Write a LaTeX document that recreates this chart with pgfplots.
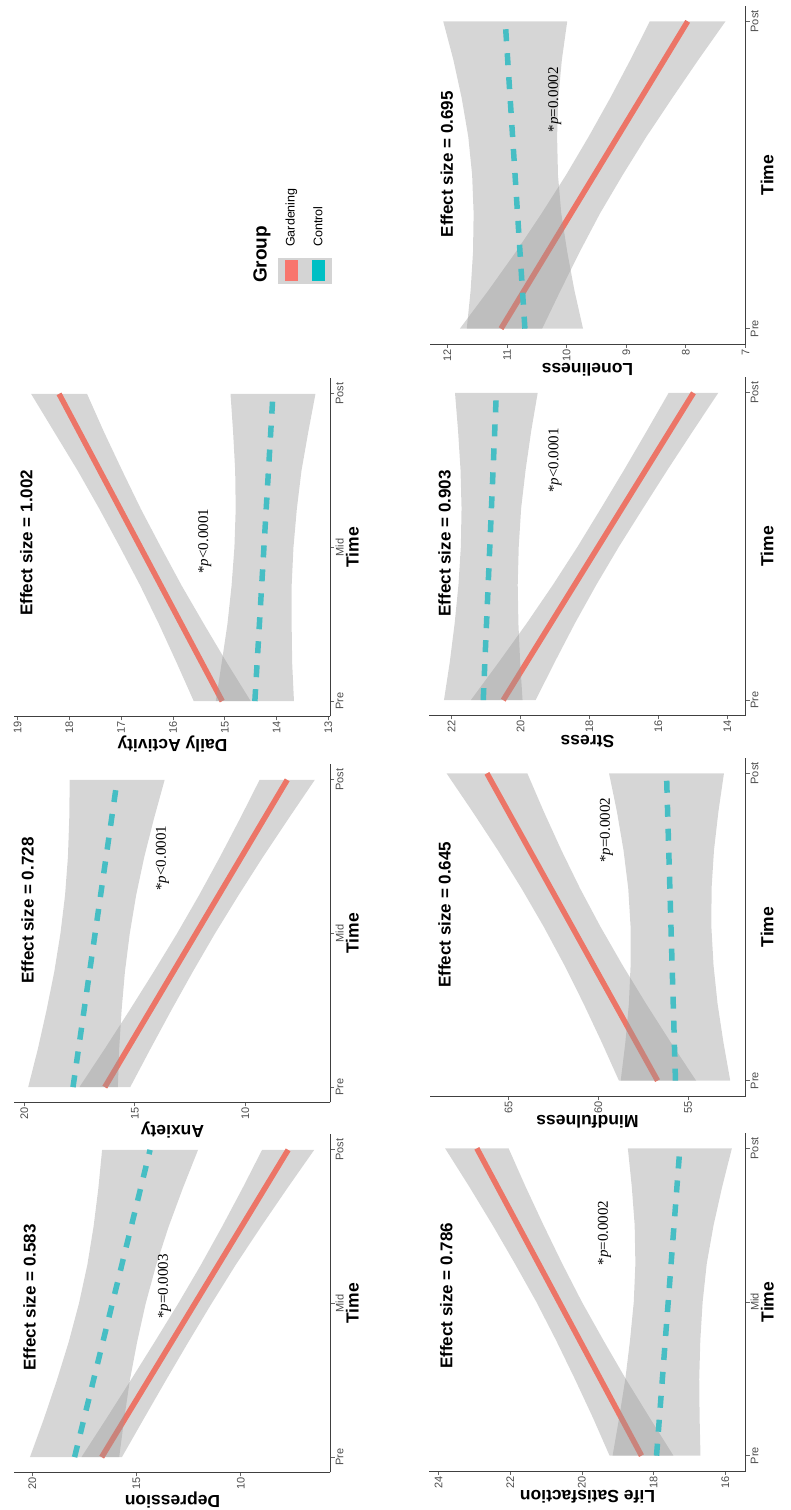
\documentclass[border=0pt]{standalone}
\usepackage{fontspec}
\setmainfont{Liberation Sans}
\newfontfamily\pfont{Liberation Serif}
\usepackage{pgfplots}
\pgfplotsset{compat=1.18}
\definecolor{gard}{RGB}{236,117,103}
\definecolor{ctrl}{RGB}{70,190,196}
\definecolor{gardkey}{RGB}{248,118,109}
\definecolor{ctrlkey}{RGB}{0,191,196}
\definecolor{keygrey}{RGB}{212,212,212}
\newcommand{\fs}[1]{\fontsize{#1}{#1}\selectfont}
\pgfplotsset{
  panel/.style={
    anchor=center, scale only axis, width=316pt, height=338pt,
    x dir=reverse, ymin=0.9, ymax=3.1, clip=false,
    axis x line=bottom, axis y line=right,
    axis line style={-, black!75, line width=0.8pt},
    every outer x axis line/.append style={-},
    every outer y axis line/.append style={-},
    every inner x axis line/.append style={-},
    every inner y axis line/.append style={-},
    tick align=outside, major tick length=4pt,
    tick style={black!60, line width=0.8pt},
    /pgf/number format/assume math mode=true,
    xticklabel style={rotate=90, anchor=east, inner sep=1pt, font=\fs{11}, text=black!70},
    yticklabel style={rotate=90, anchor=north, inner sep=1pt, font=\fs{11}, text=black!70},
    xlabel style={rotate=180, anchor=south, inner sep=1pt, font=\bfseries\fs{17.5}},
    ylabel={Time},
    ylabel style={rotate=0, anchor=north, inner sep=1pt, font=\bfseries\fs{17.5}},
  },
  band/.style={draw=none, fill=black!40, fill opacity=0.4},
  gline/.style={gard, line width=5.5pt, line cap=butt},
  cline/.style={ctrl, line width=5.5pt, dash pattern=on 12pt off 12pt},
}
\tikzset{
  esize/.style={rotate=90, font=\bfseries\fs{17}},
  pval/.style={rotate=90, font=\pfont\fs{15}},
}
\begin{document}
\begin{tikzpicture}
\path[use as bounding box] (0pt,0pt) rectangle (790pt,1510pt);

% ---------------- Depression
\begin{axis}[panel, at={(172.5pt,206.5pt)}, xmin=5.7, xmax=20.85, xtick={10,15,20},
  ytick={1,2,3}, yticklabels={Pre,Mid,Post}, xlabel={Depression}]
\addplot[band] coordinates {(15.70,1) (14.65,1.25) (13.59,1.5) (12.51,1.75) (11.40,2) (10.25,2.25) (9.03,2.5) (7.77,2.75) (6.48,3)
 (8.98,3) (9.92,2.75) (10.90,2.5) (11.92,2.25) (13.00,2) (14.13,1.75) (15.28,1.5) (16.45,1.25) (17.64,1)} -- cycle;
\addplot[gline] coordinates {(16.67,1) (7.73,3)};
\addplot[band] coordinates {(15.83,1) (15.59,1.25) (15.32,1.5) (14.97,1.75) (14.56,2) (14.06,2.25) (13.46,2.5) (12.78,2.75) (12.05,3)
 (16.65,3) (16.83,2.75) (17.06,2.5) (17.36,2.25) (17.76,2) (18.25,1.75) (18.82,1.5) (19.44,1.25) (20.11,1)} -- cycle;
\addplot[cline] coordinates {(17.97,1) (14.35,3)};
\node[esize] at (axis cs:20.13,2.04) {Effect size = 0.583};
\node[pval] at (axis cs:13.66,2.11) {*\textit{p}=0.0003};
\end{axis}

% ---------------- Anxiety
\begin{axis}[panel, at={(172.5pt,576.5pt)}, xmin=6.14, xmax=20.45, xtick={10,15,20},
  ytick={1,2,3}, yticklabels={Pre,Mid,Post}, xlabel={Anxiety}]
\addplot[band] coordinates {(15.21,1) (14.29,1.25) (13.35,1.5) (12.38,1.75) (11.37,2) (10.30,2.25) (9.19,2.5) (8.03,2.75) (6.85,3)
 (9.35,3) (10.23,2.75) (11.14,2.5) (12.09,2.25) (13.09,2) (14.15,1.75) (15.24,1.5) (16.36,1.25) (17.51,1)} -- cycle;
\addplot[gline] coordinates {(16.36,1) (8.1,3)};
\addplot[band] coordinates {(15.77,1) (15.71,1.25) (15.60,1.5) (15.45,1.75) (15.23,2) (14.94,2.25) (14.57,2.5) (14.13,2.75) (13.65,3)
 (17.95,3) (17.97,2.75) (18.03,2.5) (18.16,2.25) (18.37,2) (18.65,1.75) (19.00,1.5) (19.39,1.25) (19.83,1)} -- cycle;
\addplot[cline] coordinates {(17.8,1) (15.8,3)};
\node[esize] at (axis cs:19.86,2.15) {Effect size = 0.728};
\node[pval] at (axis cs:13.75,2.49) {*\textit{p}<0.0001};
\end{axis}

% ---------------- Daily Activity
\begin{axis}[panel, at={(172.5pt,962.5pt)}, xmin=12.96, xmax=19.06, xtick={13,14,15,16,17,18,19},
  ytick={1,2,3}, yticklabels={Pre,Mid,Post}, xlabel={Daily Activity}]
\addplot[band] coordinates {(14.50,1) (14.96,1.25) (15.40,1.5) (15.83,1.75) (16.23,2) (16.62,2.25) (16.98,2.5) (17.33,2.75) (17.66,3)
 (18.74,3) (18.29,2.75) (17.84,2.5) (17.42,2.25) (17.02,2) (16.63,1.75) (16.27,1.5) (15.93,1.25) (15.60,1)} -- cycle;
\addplot[gline] coordinates {(15.05,1) (18.2,3)};
\addplot[band] coordinates {(13.665,1) (13.70,1.25) (13.71,1.5) (13.71,1.75) (13.675,2) (13.61,2.25) (13.52,2.5) (13.39,2.75) (13.25,3)
 (14.89,3) (14.84,2.75) (14.80,2.5) (14.79,2.25) (14.815,2) (14.87,1.75) (14.95,1.5) (15.06,1.25) (15.175,1)} -- cycle;
\addplot[cline] coordinates {(14.42,1) (14.07,3)};
\node[esize] at (axis cs:18.83,2.03) {Effect size = 1.002};
\node[pval] at (axis cs:15.39,2.04) {*\textit{p}<0.0001};
\end{axis}

% ---------------- Life Satisfaction
\begin{axis}[panel, at={(587.5pt,208pt)}, xmin=15.44, xmax=24.25, xtick={16,18,20,22,24},
  ytick={1,2,3}, yticklabels={Pre,Mid,Post}, xlabel={Life Satisfaction}]
\addplot[band] coordinates {(17.45,1) (18.12,1.25) (18.78,1.5) (19.40,1.75) (20.00,2) (20.55,2.25) (21.07,2.5) (21.57,2.75) (22.045,3)
 (23.815,3) (23.14,2.75) (22.49,2.5) (21.87,2.25) (21.27,2) (20.72,1.75) (20.20,1.5) (19.70,1.25) (19.23,1)} -- cycle;
\addplot[gline] coordinates {(18.34,1) (22.93,3)};
\addplot[band] coordinates {(16.695,1) (16.72,1.25) (16.73,1.5) (16.70,1.75) (16.635,2) (16.52,2.25) (16.33,2.5) (16.09,2.75) (15.82,3)
 (18.72,3) (18.61,2.75) (18.53,2.5) (18.51,2.25) (18.555,2) (18.66,1.75) (18.79,1.5) (18.96,1.25) (19.145,1)} -- cycle;
\addplot[cline] coordinates {(17.92,1) (17.27,3)};
\node[esize] at (axis cs:23.78,2.04) {Effect size = 0.786};
\node[pval] at (axis cs:19.37,2.45) {*\textit{p}=0.0002};
\end{axis}

% ---------------- Mindfulness
\begin{axis}[panel, at={(587.5pt,583pt)}, xmin=51.8, xmax=69.4, xtick={55,60,65},
  ytick={1,3}, yticklabels={Pre,Post}, xlabel={Mindfulness}]
\addplot[band] coordinates {(54.55,1) (55.97,1.25) (57.335,1.5) (58.64,1.75) (59.87,2) (61.01,2.25) (62.055,2.5) (63.03,2.75) (63.95,3)
 (68.45,3) (67.00,2.75) (65.595,2.5) (64.27,2.25) (63.03,2) (61.88,1.75) (60.815,1.5) (59.81,1.25) (58.85,1)} -- cycle;
\addplot[gline] coordinates {(56.7,1) (66.2,3)};
\addplot[band] coordinates {(52.65,1) (53.03,1.25) (53.355,1.5) (53.58,1.75) (53.70,2) (53.69,2.25) (53.555,2.5) (53.31,2.75) (53.00,3)
 (59.40,3) (58.96,2.75) (58.595,2.5) (58.33,2.25) (58.20,2) (58.20,1.75) (58.295,1.5) (58.49,1.25) (58.75,1)} -- cycle;
\addplot[cline] coordinates {(55.7,1) (56.2,3)};
\node[esize] at (axis cs:68.56,2.08) {Effect size = 0.645};
\node[pval] at (axis cs:59.54,2.63) {*\textit{p}=0.0002};
\end{axis}

% ---------------- Stress
\begin{axis}[panel, at={(587.5pt,963.5pt)}, xmin=13.47, xmax=22.64, xtick={14,16,18,20,22},
  ytick={1,3}, yticklabels={Pre,Post}, xlabel={Stress}]
\addplot[band] coordinates {(19.56,1) (19.00,1.25) (18.42,1.5) (17.80,1.75) (17.14,2) (16.44,2.25) (15.73,2.5) (15.00,2.75) (14.26,3)
 (15.70,3) (16.34,2.75) (16.99,2.5) (17.66,2.25) (18.34,2) (19.06,1.75) (19.82,1.5) (20.62,1.25) (21.44,1)} -- cycle;
\addplot[gline] coordinates {(20.5,1) (14.98,3)};
\addplot[band] coordinates {(19.94,1) (20.01,1.25) (20.06,1.5) (20.08,1.75) (20.05,2) (19.98,2.25) (19.85,2.5) (19.69,2.75) (19.50,3)
 (21.90,3) (21.81,2.75) (21.74,2.5) (21.71,2.25) (21.73,2) (21.80,1.75) (21.91,1.5) (22.05,1.25) (22.22,1)} -- cycle;
\addplot[cline] coordinates {(21.08,1) (20.7,3)};
\node[esize] at (axis cs:22.2,2.02) {Effect size = 0.903};
\node[pval] at (axis cs:19.0,2.56) {*\textit{p}<0.0001};
\end{axis}

% ---------------- Loneliness
\begin{axis}[panel, at={(587.5pt,1335pt)}, xmin=7.0, xmax=12.3, xtick={7,8,9,10,11,12},
  ytick={1,3}, yticklabels={Pre,Post}, xlabel={Loneliness}]
\addplot[band] coordinates {(10.41,1) (10.10,1.25) (9.78,1.5) (9.44,1.75) (9.06,2) (8.66,2.25) (8.23,2.5) (7.79,2.75) (7.335,3)
 (8.605,3) (8.93,2.75) (9.27,2.5) (9.63,2.25) (10.01,2) (10.42,1.75) (10.85,1.5) (11.31,1.25) (11.79,1)} -- cycle;
\addplot[gline] coordinates {(11.1,1) (7.97,3)};
\addplot[band] coordinates {(9.725,1) (9.87,1.25) (9.99,1.5) (10.09,1.75) (10.145,2) (10.16,2.25) (10.14,2.5) (10.08,2.75) (9.99,3)
 (12.07,3) (11.90,2.75) (11.76,2.5) (11.65,2.25) (11.585,2) (11.56,1.75) (11.57,1.5) (11.61,1.25) (11.675,1)} -- cycle;
\addplot[cline] coordinates {(10.7,1) (11.03,3)};
\node[esize] at (axis cs:12.01,2.07) {Effect size = 0.695};
\node[pval] at (axis cs:10.2,2.49) {*\textit{p}=0.0002};
\end{axis}

% ---------------- Legend
\node[rotate=90, anchor=west, inner sep=0pt, font=\bfseries\fs{19}] at (262pt,1227pt) {Group};
\fill[keygrey] (278pt,1226pt) rectangle (332pt,1252pt);
\fill[gardkey] (285pt,1228.5pt) rectangle (298pt,1249.5pt);
\fill[ctrlkey] (311.5pt,1228.5pt) rectangle (324.5pt,1249.5pt);
\node[rotate=90, anchor=west, inner sep=0pt, font=\fs{12.5}] at (291.5pt,1263pt) {Gardening};
\node[rotate=90, anchor=west, inner sep=0pt, font=\fs{12.5}] at (318pt,1263pt) {Control};
\end{tikzpicture}
\end{document}
